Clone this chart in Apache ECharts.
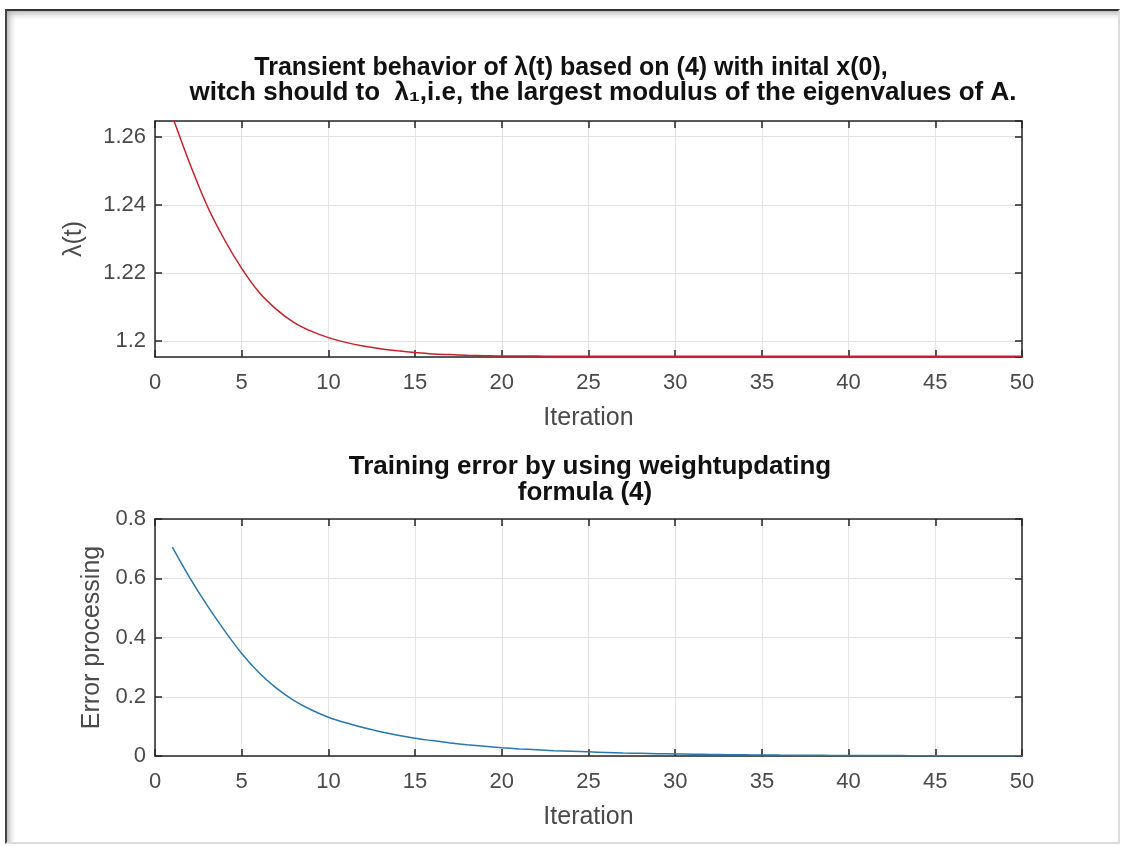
<!DOCTYPE html>
<html>
<head>
<meta charset="utf-8">
<title>Transient behavior of λ(t)</title>
<script src="https://cdn.jsdelivr.net/npm/echarts@6/dist/echarts.min.js"></script>
<style>
  html, body { margin: 0; padding: 0; background: #fff; }
  .frame {
    position: absolute; left: 5px; top: 9px; width: 1111px; height: 831px;
    border-top: 2px solid #333; border-left: 2px solid #444;
    border-right: 2px solid #dcdcdc; border-bottom: 2px solid #dcdcdc;
    box-shadow: inset 5px 5px 7px -3px rgba(0, 0, 0, 0.35);
  }
  #chart { position: absolute; left: 0; top: 0; width: 1123px; height: 846px; }
</style>
</head>
<body>
<div class="frame"></div>
<div id="chart"></div>
<script>
// iteration index (x axis)
const iterations = [
  1, 2, 3, 4, 5, 6, 7, 8, 9, 10,
  11, 12, 13, 14, 15, 16, 17, 18, 19, 20,
  21, 22, 23, 24, 25, 26, 27, 28, 29, 30,
  31, 32, 33, 34, 35, 36, 37, 38, 39, 40,
  41, 42, 43, 44, 45, 46, 47, 48, 49, 50
]

// λ(t)
const lambdaValues = [
  1.2660, 1.2522, 1.2398, 1.2298, 1.2213, 1.2143, 1.2093, 1.2055, 1.2029, 1.2010,
  1.1996, 1.1985, 1.1977, 1.1971, 1.1966, 1.1962, 1.1960, 1.1958, 1.1957, 1.1956,
  1.1956, 1.1956, 1.1955, 1.1955, 1.1955, 1.1955, 1.1955, 1.1955, 1.1955, 1.1955,
  1.1955, 1.1955, 1.1955, 1.1955, 1.1955, 1.1955, 1.1955, 1.1955, 1.1955, 1.1955,
  1.1955, 1.1955, 1.1955, 1.1955, 1.1955, 1.1955, 1.1955, 1.1955, 1.1955, 1.1955
]

// training error
const errorValues = [
  0.705, 0.602, 0.509, 0.424, 0.346, 0.281, 0.229, 0.188, 0.156, 0.131,
  0.112, 0.096, 0.082, 0.070, 0.060, 0.052, 0.044, 0.038, 0.033, 0.028,
  0.024, 0.021, 0.018, 0.016, 0.014, 0.012, 0.010, 0.009, 0.008, 0.007,
  0.006, 0.0052, 0.0045, 0.004, 0.0035, 0.003, 0.0027, 0.0024, 0.0021, 0.0019,
  0.0017, 0.0015, 0.0013, 0.0012, 0.0011, 0.001, 0.0009, 0.0008, 0.0007, 0.0006
]

// axis ranges
const xRange = [0, 50]
const lambdaRange = [1.1953, 1.2646]
const errorRange = [0, 0.8]

const frameColor = '#262626'
const labelColor = '#4a4a4a'
const gridColor = '#e3e3e3'
const fontFamily = '"Liberation Sans", Arial, Helvetica, sans-serif'

const chart = echarts.init(document.getElementById('chart'))

// 标题文字
const titleText = (text, x, y, fontSize) => ({
  type: 'text',
  style: {
    text, x, y, align: 'center', verticalAlign: 'middle',
    fontSize, fontWeight: 'bold', fontFamily, fill: '#111'
  }
})

// main axis (with labels, grid lines)
const mainX = (gridIndex) => ({
  type: 'value',
  gridIndex,
  min: xRange[0],
  max: xRange[1],
  interval: 5,
  name: 'Iteration',
  nameLocation: 'middle',
  nameGap: 49,
  nameTextStyle: { color: labelColor, fontSize: 25, fontFamily },
  axisLine: { show: true, onZero: false, lineStyle: { color: frameColor, width: 1.5 } },
  axisTick: { show: true, inside: true, length: 7, lineStyle: { color: frameColor, width: 1.5 } },
  axisLabel: { color: labelColor, fontSize: 22, fontFamily, margin: 15 },
  splitLine: { show: true, lineStyle: { color: gridColor, width: 1 } }
})

// mirrored axis that closes the box
const boxX = (gridIndex) => ({
  type: 'value',
  gridIndex,
  position: 'top',
  min: xRange[0],
  max: xRange[1],
  interval: 5,
  axisLine: { show: true, onZero: false, lineStyle: { color: frameColor, width: 1.5 } },
  axisTick: { show: true, inside: true, length: 7, lineStyle: { color: frameColor, width: 1.5 } },
  axisLabel: { show: false },
  splitLine: { show: false }
})

const boxY = (gridIndex, extra) => Object.assign({
  type: 'value',
  gridIndex,
  position: 'right',
  axisLine: { show: true, onZero: false, lineStyle: { color: frameColor, width: 1.5 } },
  axisTick: { show: true, inside: true, length: 7, lineStyle: { color: frameColor, width: 1.5 } },
  axisLabel: { show: false },
  splitLine: { show: false }
}, extra)

const yCommon = {
  type: 'value',
  nameLocation: 'middle',
  nameTextStyle: { color: labelColor, fontSize: 25, fontFamily },
  axisLine: { show: true, onZero: false, lineStyle: { color: frameColor, width: 1.5 } },
  axisTick: { show: true, inside: true, length: 7, lineStyle: { color: frameColor, width: 1.5 } },
  axisLabel: { color: labelColor, fontSize: 22, fontFamily, margin: 9, showMinLabel: false, showMaxLabel: false },
  splitLine: { show: true, lineStyle: { color: gridColor, width: 1 } }
}

chart.setOption({
  animation: false,
  backgroundColor: 'transparent',
  graphic: [
    titleText('Transient behavior of λ(t) based on (4) with inital x(0),', 571, 68, 25),
    titleText('witch should to  λ₁,i.e, the largest modulus of the eigenvalues of A.', 603, 93, 26),
    titleText('Training error by using weightupdating', 590, 467, 26),
    titleText('formula (4)', 585, 493, 26)
  ],
  grid: [
    { left: 155, right: 101, top: 121, height: 236 },
    { left: 155, right: 101, top: 519, height: 237 }
  ],
  xAxis: [mainX(0), boxX(0), mainX(1), boxX(1)],
  yAxis: [
    Object.assign({}, yCommon, {
      gridIndex: 0,
      min: lambdaRange[0],
      max: lambdaRange[1],
      splitNumber: 3,
      name: 'λ(t)',
      nameGap: 68
    }),
    boxY(0, { min: lambdaRange[0], max: lambdaRange[1], splitNumber: 3 }),
    Object.assign({}, yCommon, {
      gridIndex: 1,
      min: errorRange[0],
      max: errorRange[1],
      interval: 0.2,
      name: 'Error processing',
      nameGap: 44,
      axisLabel: Object.assign({}, yCommon.axisLabel, { showMinLabel: true, showMaxLabel: true })
    }),
    boxY(1, { min: errorRange[0], max: errorRange[1], interval: 0.2 })
  ],
  series: [
    {
      name: 'λ(t)',
      type: 'line',
      xAxisIndex: 0,
      yAxisIndex: 0,
      data: iterations.map((t, i) => [t, lambdaValues[i]]),
      showSymbol: false,
      smooth: 0.3,
      clip: true,
      lineStyle: { color: '#c8202a', width: 1.5 }
    },
    {
      name: 'Error processing',
      type: 'line',
      xAxisIndex: 2,
      yAxisIndex: 2,
      data: iterations.map((t, i) => [t, errorValues[i]]),
      showSymbol: false,
      smooth: 0.3,
      clip: true,
      lineStyle: { color: '#2a77ad', width: 1.5 }
    }
  ]
})

window.addEventListener('resize', () => chart.resize())
</script>
</body>
</html>
